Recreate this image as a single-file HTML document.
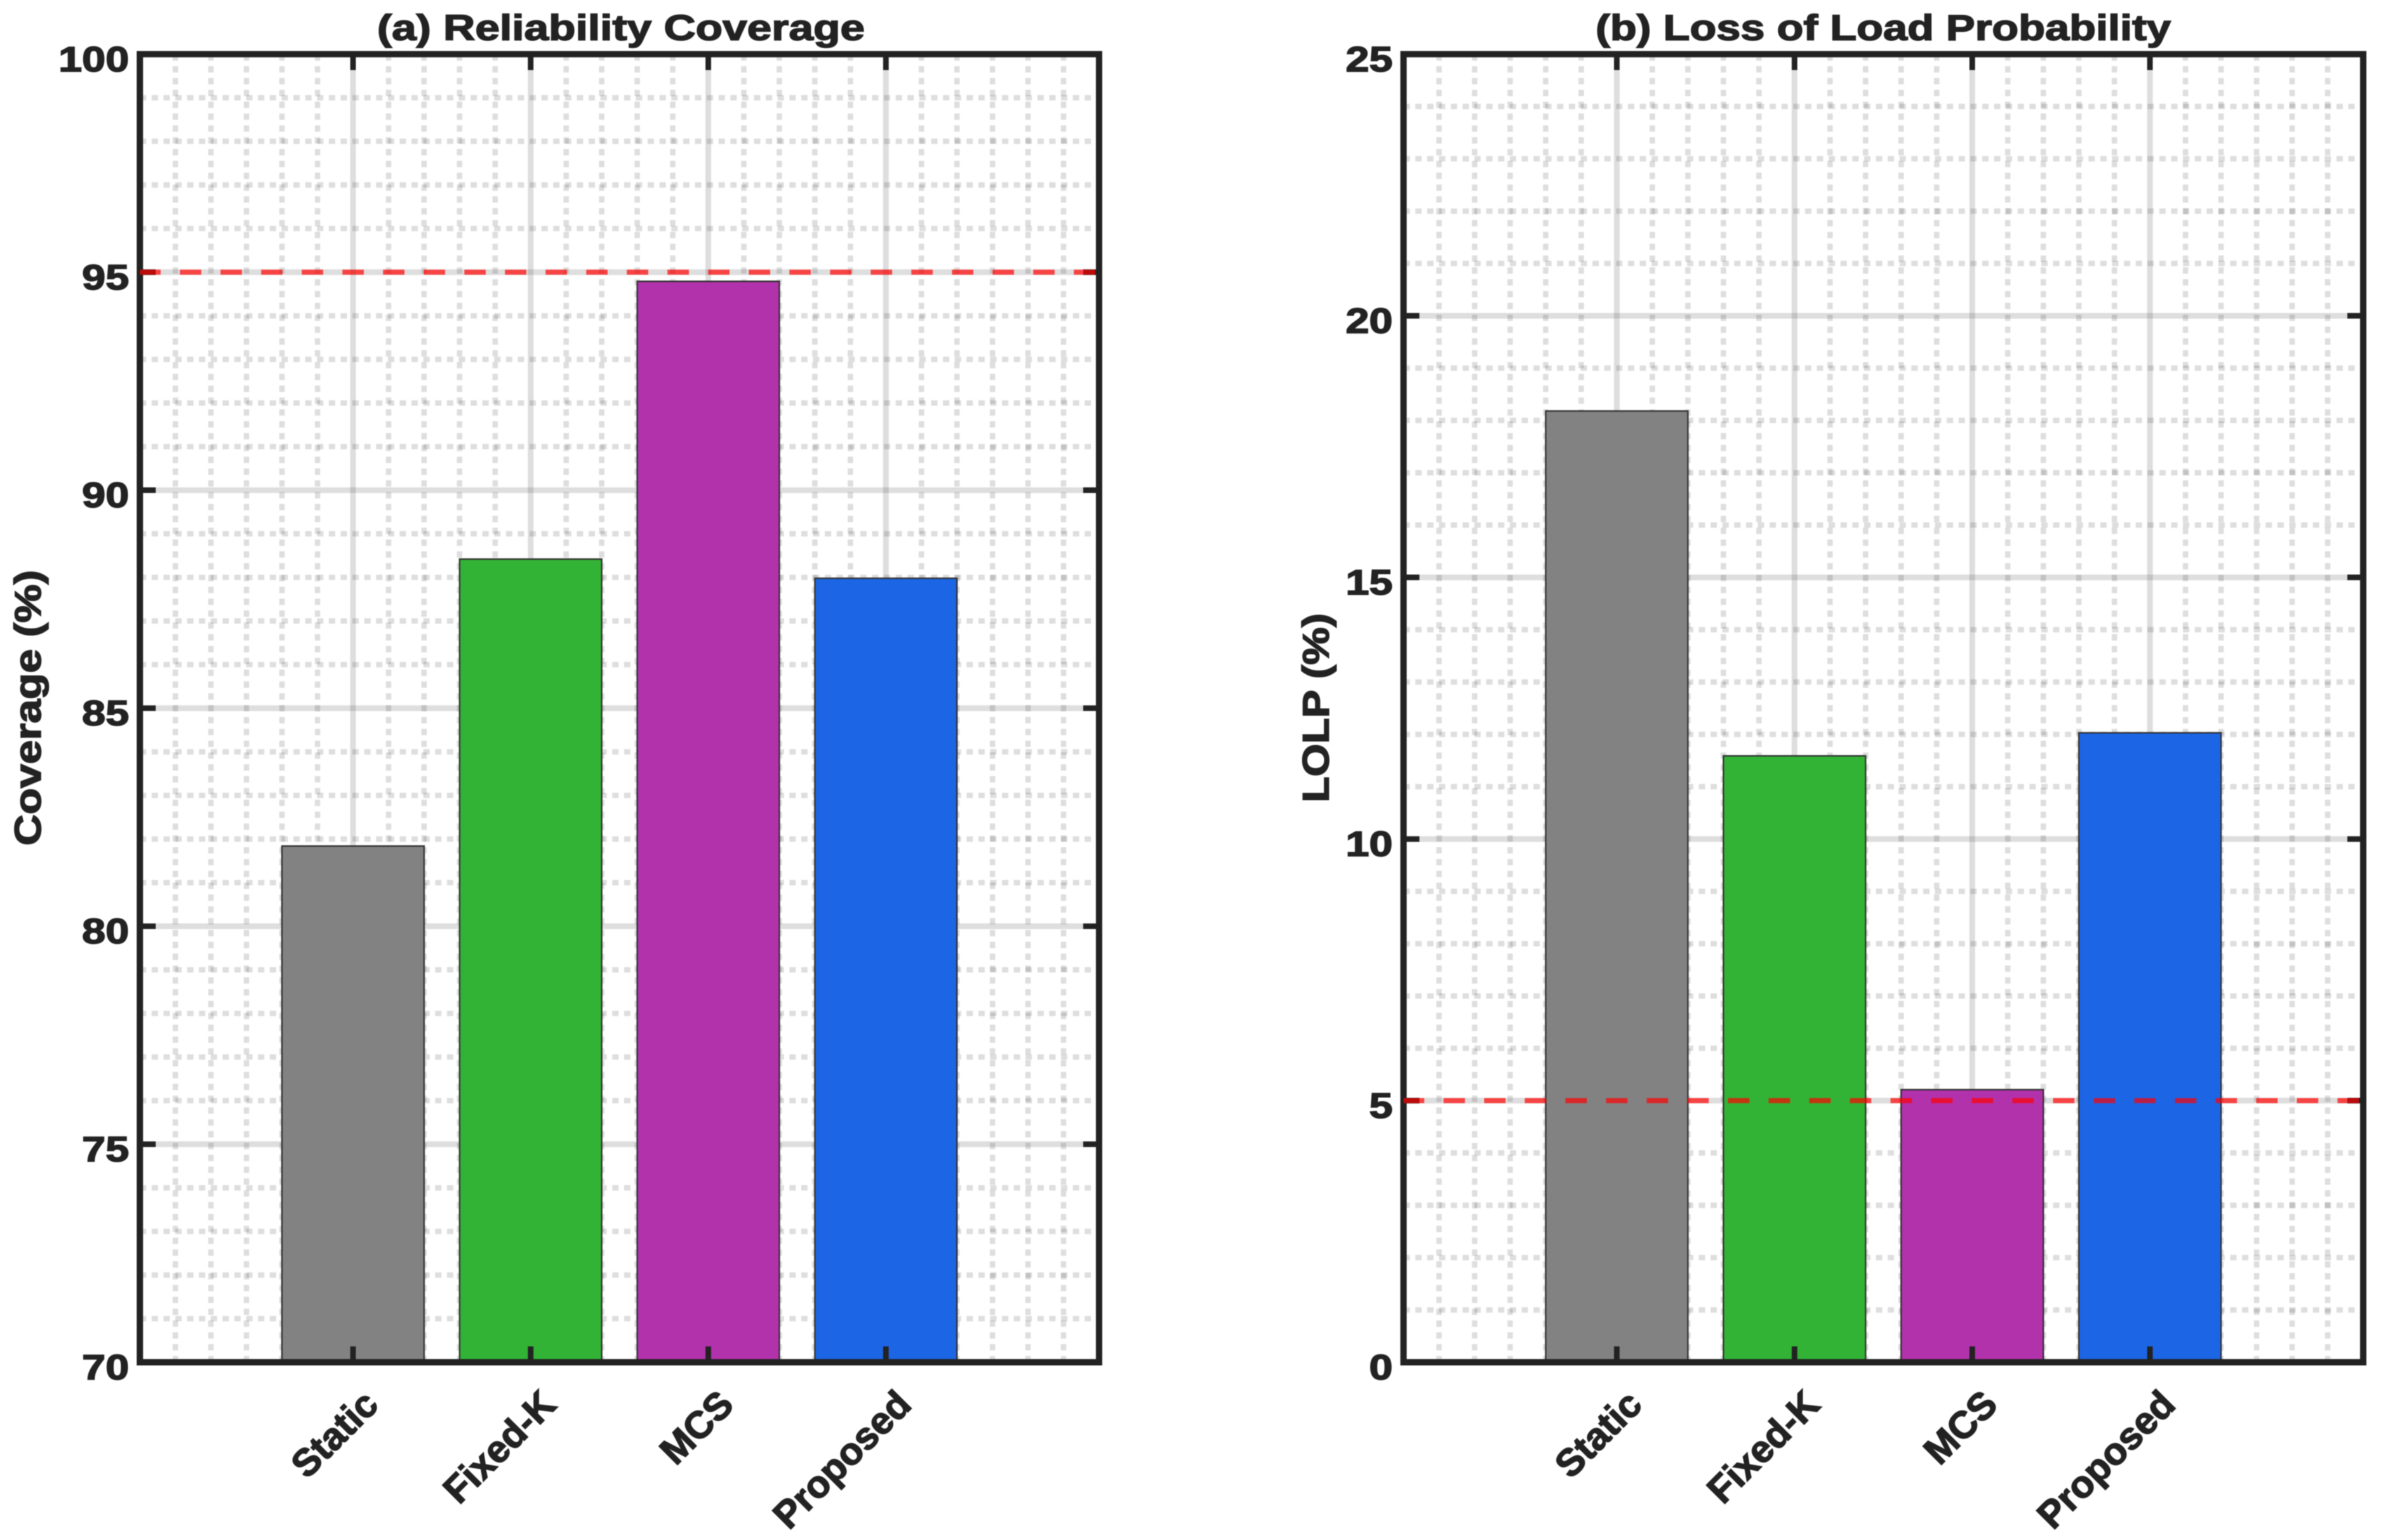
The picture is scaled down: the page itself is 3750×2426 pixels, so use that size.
<!DOCTYPE html>
<html lang="en">
<head>
<meta charset="utf-8">
<title>Reliability Coverage and Loss of Load Probability</title>
<style>
html,body{margin:0;padding:0;background:#fff;width:3750px;height:2426px;overflow:hidden}
svg{display:block;filter:blur(0.9px)}
text{font-family:"Liberation Sans",Arial,sans-serif;font-weight:700;fill:#222;stroke:#222;stroke-width:1.7px}
</style>
</head>
<body>
<svg id="figure" xmlns="http://www.w3.org/2000/svg" width="3750" height="2426" viewBox="0 0 3750 2426"></svg>
<script>
const categories = ["Static", "Fixed-K", "MCS", "Proposed"];
const coverageValues = [81.84, 88.42, 94.79, 87.98];
const lolpValues = [18.18, 11.59, 5.21, 12.03];
const coverageTicks = [70, 75, 80, 85, 90, 95, 100];
const lolpTicks = [0, 5, 10, 15, 20, 25];
const coverageTarget = [95];
const lolpTarget = [5];
const barColors = ["#828282", "#32b335", "#b232ac", "#1c66e6"];

const NS = "http://www.w3.org/2000/svg";
const svg = document.getElementById("figure");
const INK = "#222";
const TOP = 85.3, BOTTOM = 2146;
const X_MIN = -1.2, X_MAX = 4.2, BAR_WIDTH = 0.8;

function make(tag, attrs, parent) {
  const el = document.createElementNS(NS, tag);
  for (const k in attrs) el.setAttribute(k, attrs[k]);
  parent.appendChild(el);
  return el;
}

function drawPanel(cfg) {
  const panel = make("g", {}, svg);
  
  

  const xs = v => cfg.left + (v - X_MIN) / (X_MAX - X_MIN) * (cfg.right - cfg.left);
  const ys = v => BOTTOM - (v - cfg.yMin) / (cfg.yMax - cfg.yMin) * (BOTTOM - TOP);

  const clip = make("clipPath", { id: cfg.id + "-clip" }, panel);
  make("rect", { x: cfg.left, y: TOP, width: cfg.right - cfg.left, height: BOTTOM - TOP }, clip);

  const grid = make("g", { "clip-path": "url(#" + cfg.id + "-clip)" }, panel);
  
  

  const GRID = "rgba(0,0,0,0.13)";

  // minor horizontal grid, every 1 unit
  for (let v = cfg.yMin + 1; v < cfg.yMax; v++) {
    if ((v - cfg.yMin) % 5 === 0) continue;
    const l = make("line", { x1: cfg.left, x2: cfg.right, y1: ys(v), y2: ys(v), stroke: GRID, "stroke-width": 8.5, "stroke-dasharray": "10 8.6" }, grid);
    
    
  }
  // minor vertical grid, every 0.2 category units
  for (let i = -5; i <= 20; i++) {
    if (i % 5 === 0 && i >= 0 && i < categories.length * 5) continue;
    const xv = i / 5;
    const l = make("line", { x1: xs(xv), x2: xs(xv), y1: BOTTOM, y2: TOP, stroke: GRID, "stroke-width": 8.5, "stroke-dasharray": "10 8.64" }, grid);
    
    
  }
  // major grid
  cfg.ticks.forEach(t => {
    const l = make("line", { x1: cfg.left, x2: cfg.right, y1: ys(t), y2: ys(t), stroke: GRID, "stroke-width": 9 }, grid);
    
    
  });
  categories.forEach((c, i) => {
    const l = make("line", { x1: xs(i), x2: xs(i), y1: TOP, y2: BOTTOM, stroke: GRID, "stroke-width": 9 }, grid);
    
    
  });

  // bars
  cfg.values.forEach((v, i) => {
    const x0 = xs(i - BAR_WIDTH / 2), x1 = xs(i + BAR_WIDTH / 2);
    const r = make("rect", { x: x0, y: ys(v), width: x1 - x0, height: BOTTOM - ys(v), fill: barColors[i], stroke: "#333", "stroke-width": 2.4 }, panel);
    
    
  });

  // ticks
  const TICK_LEN = 25, TICK_W = 8.8;
  categories.forEach((c, i) => {
    const b = make("line", { x1: xs(i), x2: xs(i), y1: BOTTOM, y2: BOTTOM - TICK_LEN, stroke: INK, "stroke-width": TICK_W }, panel);
    
    
    const t = make("line", { x1: xs(i), x2: xs(i), y1: TOP, y2: TOP + TICK_LEN, stroke: INK, "stroke-width": TICK_W }, panel);
    
    
  });
  cfg.ticks.forEach(t => {
    const a = make("line", { x1: cfg.left, x2: cfg.left + TICK_LEN, y1: ys(t), y2: ys(t), stroke: INK, "stroke-width": TICK_W }, panel);
    
    
    const b = make("line", { x1: cfg.right, x2: cfg.right - TICK_LEN, y1: ys(t), y2: ys(t), stroke: INK, "stroke-width": TICK_W }, panel);
    
    
  });

  // frame
  const frame = make("rect", { x: cfg.left, y: TOP, width: cfg.right - cfg.left, height: BOTTOM - TOP, fill: "none", stroke: INK, "stroke-width": 10 }, panel);
  
  

  // threshold line
  const redG = make("g", { "clip-path": "url(#" + cfg.id + "-clip)" }, panel);
  const red = make("line", { x1: cfg.left - 1, x2: cfg.right, y1: ys(cfg.target[0]), y2: ys(cfg.target[0]), stroke: "rgba(255,0,0,0.7)", "stroke-width": 8, "stroke-dasharray": "33.7 30.3" }, redG);
  
  

  // y tick labels
  cfg.ticks.forEach(t => {
    const s = String(t);
    const label = make("text", { x: cfg.left - 17, y: ys(t) + 27, "text-anchor": "end", "font-size": 56, textLength: (s.length * 31.14 * 1.19).toFixed(1), lengthAdjust: "spacingAndGlyphs" }, panel);
    label.textContent = s;
    
    
  });

  // x tick labels
  categories.forEach((c, i) => {
    const ex = xs(i) + 43, ey = 2216;
    const label = make("text", { x: ex, y: ey, "text-anchor": "end", "font-size": 60, transform: "rotate(-45 " + ex + " " + ey + ")" }, panel);
    label.textContent = c;
    
    
  });

  // title
  const title = make("text", { x: cfg.titleX, y: 63, "text-anchor": "middle", "font-size": 57, textLength: cfg.titleLen, lengthAdjust: "spacingAndGlyphs" }, panel);
  title.textContent = cfg.title;
  
  

  // y-axis title
  const yl = make("text", { x: cfg.ylabelX, y: 1115, "text-anchor": "middle", "font-size": 58, textLength: cfg.ylabelLen, lengthAdjust: "spacingAndGlyphs", transform: "rotate(-90 " + cfg.ylabelX + " 1115)" }, panel);
  yl.textContent = cfg.ylabel;
  
  
}

drawPanel({
  id: "coverage", left: 220.3, right: 1731, yMin: 70, yMax: 100,
  values: coverageValues, ticks: coverageTicks, target: coverageTarget,
  title: "(a) Reliability Coverage", titleX: 978, titleLen: 768,
  ylabel: "Coverage (%)", ylabelX: 64, ylabelLen: 434
});
drawPanel({
  id: "lolp", left: 2210.5, right: 3722, yMin: 0, yMax: 25,
  values: lolpValues, ticks: lolpTicks, target: lolpTarget,
  title: "(b) Loss of Load Probability", titleX: 2966, titleLen: 906,
  ylabel: "LOLP (%)", ylabelX: 2092.7, ylabelLen: 298
});
</script>
</body>
</html>
